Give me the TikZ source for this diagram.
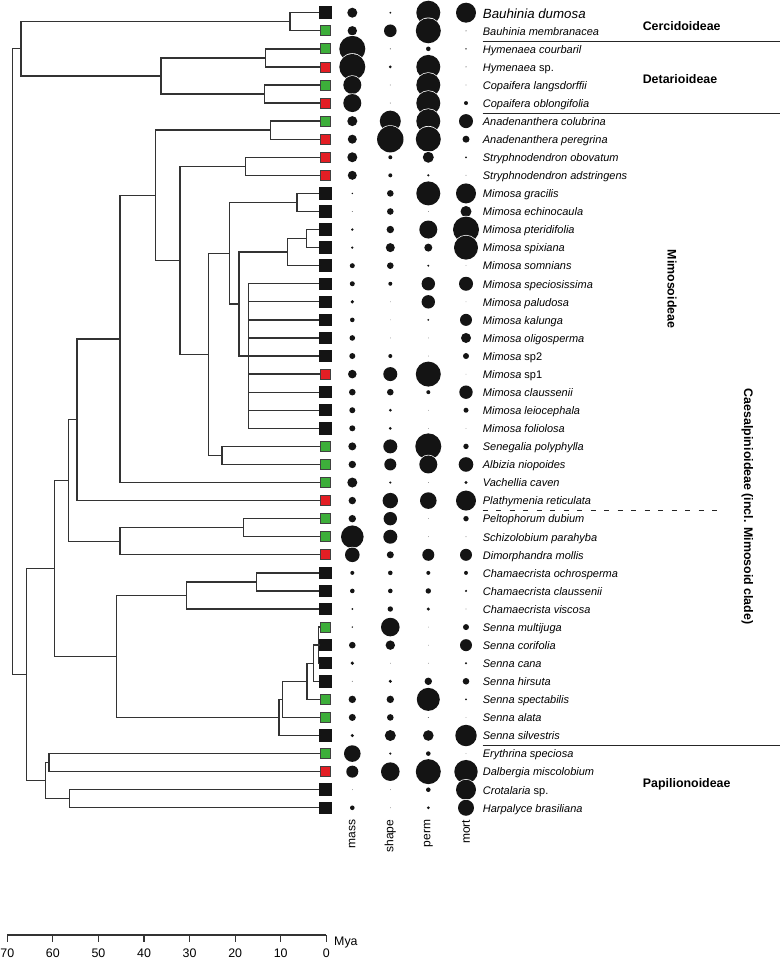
\documentclass[tikz,border=0pt]{standalone}
\usepackage{fontspec}
\setmainfont{Liberation Sans}
\usetikzlibrary{calc}
\definecolor{treeLine}{HTML}{333333}
\definecolor{tipBlack}{HTML}{141414}
\definecolor{tipGreen}{HTML}{3DAE3A}
\definecolor{tipRed}{HTML}{E31E24}
\definecolor{dotFill}{HTML}{141414}

\begin{document}
\begin{tikzpicture}[
    x=1pt, y=-1pt,
    every node/.style = {inner sep=0pt},
    branch/.style     = {draw=treeLine, line width=1.35pt},
    sqK/.style        = {fill=tipBlack, minimum size=12.5pt},
    sqG/.style        = {fill=tipGreen, draw=black!75, line width=0.7pt, minimum size=10pt},
    sqR/.style        = {fill=tipRed, draw=black!75, line width=0.7pt, minimum size=10pt},
    taxon/.style      = {font=\fontsize{11}{13}\selectfont\itshape, anchor=base west},
    clade/.style      = {font=\fontsize{12.4}{14}\selectfont\bfseries},
    collbl/.style     = {font=\fontsize{12}{14}\selectfont, rotate=90, anchor=east},
    axlbl/.style      = {font=\fontsize{12.4}{14}\selectfont},
    sep/.style        = {draw=black!85, line width=0.9pt},
  ]
  \useasboundingbox (0,0) rectangle (780,961);

  %% Tips: one square per taxon (row spacing 18.07)
  \foreach \i/\c in {0/K,1/G,2/G,3/R,4/G,5/R,6/G,7/R,8/R,9/R,10/K,11/K,12/K,13/K,14/K,
                     15/K,16/K,17/K,18/K,19/K,20/R,21/K,22/K,23/K,24/G,25/G,26/G,27/R,
                     28/G,29/G,30/R,31/K,32/K,33/K,34/G,35/K,36/K,37/K,38/G,39/G,40/K,
                     41/G,42/R,43/K,44/K}
    \node[sq\c] (t\i) at (325.3,{12.7+18.07*\i}) {};

  %% Internal nodes of the tree (x = age, y = between children)
  \coordinate (cer)  at (290.0, 21.75);
  \coordinate (hym)  at (265.7, 57.85);
  \coordinate (cop)  at (264.7, 94.0);
  \coordinate (det)  at (161.0, 75.9);
  \coordinate (cd)   at ( 21.0, 48.8);
  \coordinate (ana)  at (270.7,130.15);
  \coordinate (str)  at (245.7,166.3);
  \coordinate (gra)  at (297.0,202.45);
  \coordinate (pte)  at (306.7,238.55);
  \coordinate (pts)  at (287.3,252.1);
  \coordinate (pol)  at (248.7,356.05);
  \coordinate (msp)  at (239.0,304.1);
  \coordinate (mim)  at (229.3,253.3);
  \coordinate (sea)  at (222.0,455.45);
  \coordinate (mia)  at (208.7,354.4);
  \coordinate (sti)  at (180.0,260.35);
  \coordinate (ing)  at (155.7,195.25);
  \coordinate (vac)  at (120.0,338.9);
  \coordinate (pla)  at ( 77.0,419.75);
  \coordinate (pes)  at (243.7,527.7);
  \coordinate (dim)  at (120.0,541.25);
  \coordinate (caes) at ( 68.3,480.5);
  \coordinate (cha1) at (256.7,581.9);
  \coordinate (cha)  at (186.7,595.45);
  \coordinate (sn4)  at (318.5,645.15);
  \coordinate (sn3)  at (313.7,663.2);
  \coordinate (sn2)  at (307.0,681.3);
  \coordinate (sn1)  at (282.3,699.35);
  \coordinate (snn)  at (279.0,717.4);
  \coordinate (chs)  at (116.7,656.4);
  \coordinate (cae)  at ( 54.7,568.45);
  \coordinate (erd)  at ( 49.0,762.6);
  \coordinate (crh)  at ( 69.3,798.75);
  \coordinate (pap)  at ( 45.3,780.7);
  \coordinate (bb)   at ( 26.3,674.6);
  \coordinate (root) at ( 12.7,361.7);

  %% Branches (elbow from parent to child)
  \foreach \p/\q in {cer/t0.west, cer/t1.west, hym/t2.west, hym/t3.west,
                     cop/t4.west, cop/t5.west, det/hym, det/cop, cd/cer, cd/det,
                     ana/t6.west, ana/t7.west, str/t8.west, str/t9.west,
                     gra/t10.west, gra/t11.west, pte/t12.west, pte/t13.west,
                     pts/pte, pts/t14.west, msp/pts, msp/pol, mim/gra, mim/msp,
                     sea/t24.west, sea/t25.west, mia/mim, mia/sea, sti/str, sti/mia,
                     ing/ana, ing/sti, vac/ing, vac/t26.west, pla/vac, pla/t27.west,
                     pes/t28.west, pes/t29.west, dim/pes, dim/t30.west,
                     caes/pla, caes/dim, cha1/t31.west, cha1/t32.west,
                     cha/cha1, cha/t33.west, sn4/t34.west, sn4/t35.west, sn4/t36.west,
                     sn3/sn4, sn3/t37.west, sn2/sn3, sn2/t38.west, sn1/sn2, sn1/t39.west,
                     snn/sn1, snn/t40.west, chs/cha, chs/snn, cae/caes, cae/chs,
                     erd/t41.west, erd/t42.west, crh/t43.west, crh/t44.west,
                     pap/erd, pap/crh, bb/cae, bb/pap, root/cd, root/bb}
    \draw[branch] (\p) |- (\q);
  % Mimosa polytomy
  \foreach \i in {15,...,23}
    \draw[branch] (pol) |- (t\i.west);

  %% Trait dots: mass, shape, perm, mort (radius in px)
  \foreach \i/\a/\b/\c/\d in {
      0/5/1/12/10, 1/4.7/6.3/12.5/0.5, 2/13/0.5/2.3/0.8, 3/13/1.5/12/0.5,
      4/9/0.4/12/0.4, 5/9/0.4/12/2, 6/5/10.5/12/7, 7/4.5/13.2/12.5/3.5,
      8/5/2/5.5/1, 9/4.5/2/1.2/0.4, 10/0.8/3.3/12/10, 11/0.4/3.3/0.3/5.5,
      12/1.3/3.7/9/13, 13/1.3/4.5/4/12, 14/2.5/3.3/1.1/0.3, 15/2.5/2/6.7/7,
      16/1.8/0.3/6.7/0.3, 17/2.3/0.3/1/6, 18/2.8/0.3/0.3/5, 19/3/2/0.3/3,
      20/4.3/7/12.5/0.3, 21/3.3/3.3/2/6.7, 22/3/1.5/0.3/2.5, 23/3/1.5/0.3/0.3,
      24/4/7/13/2.7, 25/3.7/6/9/7.3, 26/5/1.2/0.3/1.7, 27/3.7/7.7/8.3/10,
      28/3.7/6.7/0.3/2.7, 29/11.3/7/0.3/0.3, 30/7.3/3.5/6/6, 31/2/2.3/2/2,
      32/2.3/2.3/2.7/1.2, 33/1/2.7/1.7/0.3, 34/0.8/9.3/0.3/3, 35/3.3/4.7/0.3/6,
      36/1.8/0.3/0.3/1.2, 37/0.4/1.7/3.7/3.3, 38/3.7/3.7/11.5/1, 39/3.5/3.3/0.4/0.3,
      40/1.7/5.5/5.3/10.7, 41/8.3/1.2/2.3/0.3, 42/6/9.3/12.5/11.7, 43/0.3/0.3/2.3/10,
      44/2.3/0.3/1.5/8}
  {
    \foreach \x/\r in {352.3/\a, 390.3/\b, 428.3/\c, 466/\d} {
      \fill[white]   (\x,{12.7+18.07*\i}) circle[radius={(\r+0.7)*1pt}];
      \fill[dotFill] (\x,{12.7+18.07*\i}) circle[radius={\r*1pt}];
    }
  }

  %% Column labels
  \node[collbl] (cmass)  at (352.3,819.5) {mass};
  \node[collbl] (cshape) at (390.3,819.5) {shape};
  \node[collbl] (cperm)  at (428.3,819.5) {perm};
  \node[collbl] (cmort)  at (466.0,819.5) {mort};

  %% Taxon names
  \node[taxon, font=\fontsize{13.3}{15}\selectfont\itshape] (n0) at (482.7,18.0) {Bauhinia dumosa};
  \foreach \i/\txt in {1/{Bauhinia membranacea}, 2/{Hymenaea courbaril},
      3/{Hymenaea \textup{sp.}}, 4/{Copaifera langsdorffii}, 5/{Copaifera oblongifolia},
      6/{Anadenanthera colubrina}, 7/{Anadenanthera peregrina},
      8/{Stryphnodendron obovatum}, 9/{Stryphnodendron adstringens},
      10/{Mimosa gracilis}, 11/{Mimosa echinocaula}, 12/{Mimosa pteridifolia},
      13/{Mimosa spixiana}, 14/{Mimosa somnians}, 15/{Mimosa speciosissima},
      16/{Mimosa paludosa}, 17/{Mimosa kalunga}, 18/{Mimosa oligosperma},
      19/{Mimosa \textup{sp2}}, 20/{Mimosa \textup{sp1}}, 21/{Mimosa claussenii},
      22/{Mimosa leiocephala}, 23/{Mimosa foliolosa}, 24/{Senegalia polyphylla},
      25/{Albizia niopoides}, 26/{Vachellia caven}, 27/{Plathymenia reticulata},
      28/{Peltophorum dubium}, 29/{Schizolobium parahyba}, 30/{Dimorphandra mollis},
      31/{Chamaecrista ochrosperma}, 32/{Chamaecrista claussenii},
      33/{Chamaecrista viscosa}, 34/{Senna multijuga}, 35/{Senna corifolia},
      36/{Senna cana}, 37/{Senna hirsuta}, 38/{Senna spectabilis}, 39/{Senna alata},
      40/{Senna silvestris}, 41/{Erythrina speciosa}, 42/{Dalbergia miscolobium},
      43/{Crotalaria \textup{sp.}}, 44/{Harpalyce brasiliana}}
    \node[taxon] (n\i) at (482.7,{12.7+18.07*\i+4.3}) {\txt};

  %% Subfamily separators and labels
  \draw[sep] (482.7,41.5)  -- (780,41.5);
  \draw[sep] (482.7,113.0) -- (780,113.0);
  \draw[sep, dash pattern=on 5pt off 8.5pt] (482.7,510.0) -- (718.3,510.0);
  \draw[sep] (482.7,745.5) -- (780,745.5);

  \node[clade] (cercid) at (681.7,26.0)  {Cercidoideae};
  \node[clade] (detar)  at (680.0,79.0)  {Detarioideae};
  \node[clade, rotate=-90] (mimos) at (672.0,289.0) {Mimosoideae};
  \node[clade, rotate=-90] (caesal) at (747.3,506.7) {Caesalpinioideae (incl. Mimosoid clade)};
  \node[clade] (papil)  at (686.7,784.5) {Papilionoideae};

  %% Time axis (Mya)
  \coordinate (ax70) at (7.3,935);
  \coordinate (ax0)  at (326.3,935);
  \draw[branch, line width=1.1pt] (ax70) -- (ax0);
  \foreach \t in {0,10,...,70} {
    \draw[branch, line width=1.1pt] ({326.3-4.557*\t},935) -- ++(0,7);
    \node[axlbl] (lab\t) at ({326.3-4.557*\t},953) {\t};
  }
  \node[axlbl, anchor=west] (mya) at (334,943) {Mya};

\end{tikzpicture}
\end{document}
